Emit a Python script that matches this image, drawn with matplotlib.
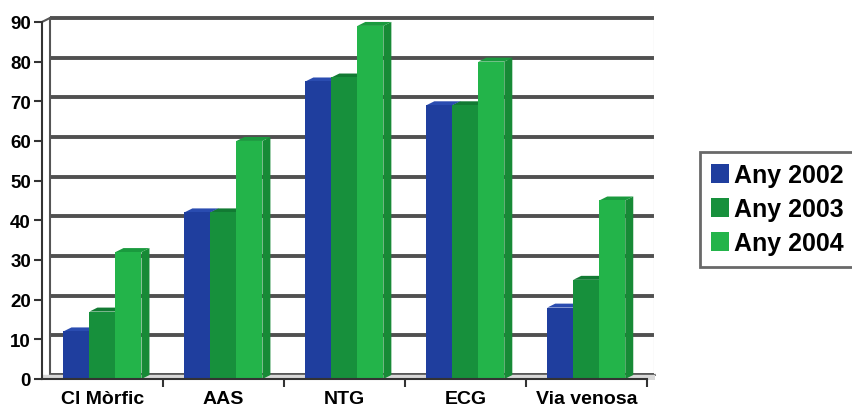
import matplotlib
matplotlib.use("Agg")
import matplotlib.pyplot as plt
from matplotlib.patches import Polygon

categories = ["Cl Mòrfic", "AAS", "NTG", "ECG", "Via venosa"]
series_names = ["Any 2002", "Any 2003", "Any 2004"]
any_2002 = [12, 42, 75, 69, 18]
any_2003 = [17, 42, 76, 69, 25]
any_2004 = [32, 60, 89, 80, 45]
y_ticks = [0, 10, 20, 30, 40, 50, 60, 70, 80, 90]

front_colors = ["#1f3e9e", "#17903c", "#23b44a"]
side_colors = ["#13286e", "#0f6b2b", "#178a36"]
top_colors = ["#2a4cb0", "#127a33", "#1a9a3e"]

plt.rcParams["font.family"] = ["Liberation Sans", "DejaVu Sans"]
plt.rcParams["font.weight"] = "bold"

fig = plt.figure(figsize=(8.53, 4.10), dpi=100)
ax = fig.add_axes([42 / 853, 1 - 380 / 410, 612 / 853, 363 / 410])

x_lo, x_hi = -0.5, 4.56
y_hi = 91.5
dx, dy = 0.066, 1.0   # depth offset in data units
width = 0.215

ax.set_xlim(x_lo, x_hi)
ax.set_ylim(0, y_hi)

# back wall gridlines and borders
for v in y_ticks:
    ax.plot([x_lo + dx, 4.5 + dx], [v + dy, v + dy], color="#505050", lw=2.8, zorder=1,
            solid_capstyle="butt")
ax.plot([x_lo + dx, x_lo + dx], [dy, 90 + dy], color="#555555", lw=1.5, zorder=1)
ax.plot([x_lo, x_lo + dx], [90, 90 + dy], color="#555555", lw=1.5, zorder=1)
ax.plot([4.5 + dx, 4.5 + dx], [dy, 90 + dy], color="#a0a0a0", lw=1.5, zorder=1)
ax.plot([4.5, 4.5 + dx], [0, dy], color="#555555", lw=1.5, zorder=1, clip_on=False)
ax.fill_between([x_lo, 4.5 + dx], 0, dy, color="#d8d8d8", zorder=1)

series = [any_2002, any_2003, any_2004]
for i in range(len(categories)):
    for j, vals in enumerate(series):
        x0 = i + (j - 1) * width - width / 2
        x1 = x0 + width
        h = vals[i]
        side = Polygon([(x1, 0), (x1, h), (x1 + dx, h + dy), (x1 + dx, dy)],
                       closed=True, facecolor=side_colors[j], edgecolor="none", zorder=3 + j)
        top = Polygon([(x0, h), (x1, h), (x1 + dx, h + dy), (x0 + dx, h + dy)],
                      closed=True, facecolor=top_colors[j], edgecolor="none", zorder=3 + j)
        ax.add_patch(side)
        ax.add_patch(top)
    for j, vals in enumerate(series):
        ax.bar(i + (j - 1) * width, vals[i], width=width, color=front_colors[j],
               zorder=3 + j, label=series_names[j] if i == 0 else None, linewidth=0)

for s in ["top", "right"]:
    ax.spines[s].set_visible(False)
ax.spines["left"].set_bounds(0, 90)
ax.spines["bottom"].set_bounds(x_lo, 4.5)
for s in ["left", "bottom"]:
    ax.spines[s].set_linewidth(1.5)
    ax.spines[s].set_color("#333333")
    ax.spines[s].set_zorder(10)

ax.set_yticks(y_ticks)
ax.tick_params(axis="y", length=6, width=1.5, color="#333333", pad=2, labelsize=13.5)
ax.set_xticks([0.5, 1.5, 2.5, 3.5, 4.5])
ax.set_xticklabels([])
ax.set_xticks(range(len(categories)), minor=True)
ax.set_xticklabels(categories, minor=True, fontsize=14, fontweight="bold")
ax.tick_params(axis="x", which="major", length=6, width=1.5, color="#333333")
ax.tick_params(axis="x", which="minor", length=0, pad=8)
for lbl in ax.get_yticklabels():
    lbl.set_fontweight("bold")

leg = fig.legend(loc="upper left", bbox_to_anchor=(700 / 853, 1 - 153 / 410),
                 frameon=True, fancybox=False, edgecolor="#444444",
                 handlelength=0.7, handleheight=0.75, handletextpad=0.2,
                 labelspacing=0.4, borderpad=0.45, borderaxespad=0,
                 prop={"weight": "bold", "size": 18})
leg.get_frame().set_linewidth(2)

fig.savefig("out.png", dpi=100)
